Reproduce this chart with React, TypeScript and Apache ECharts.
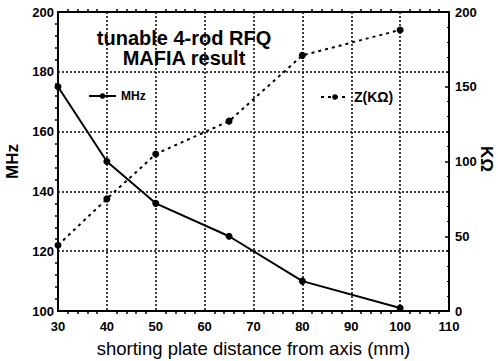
import React, { useEffect, useRef } from "react";
import * as echarts from "echarts";

const distances = [30, 40, 50, 65, 80, 100];
const mhzValues = [175, 150, 136, 125, 110, 101];
const zValues = [44, 75, 105, 127, 171, 188];
const titleLines = ["tunable 4-rod RFQ", "MAFIA result"];

const FONT = "'Liberation Sans', Arial, sans-serif";

export default function App() {
  const ref = useRef<HTMLDivElement>(null);
  useEffect(() => {
    if (!ref.current) return;
    const chart = echarts.init(ref.current, undefined, { renderer: "svg" });
    const mhzData = distances.map((d, i) => [d, mhzValues[i]]);
    const zData = distances.map((d, i) => [d, zValues[i]]);
    const axisLabel = { color: "#000", fontFamily: FONT, fontWeight: "bold" as const, fontSize: 13 };
    chart.setOption({
      animation: false,
      backgroundColor: "#fff",
      grid: {
        left: 58,
        right: 49,
        top: 12,
        bottom: 50,
        show: true,
        borderColor: "#000",
        borderWidth: 2,
        outerBoundsMode: "none",
        containLabel: false,
      },
      graphic: [
        {
          type: "text",
          x: 184,
          y: 28,
          style: {
            text: titleLines.join("\n"),
            font: `bold 20px ${FONT}`,
            fill: "#000",
            align: "center",
            verticalAlign: "top",
            lineHeight: 20,
          },
        },
        {
          type: "text",
          x: 486,
          y: 159,
          rotation: -Math.PI / 2,
          style: {
            text: "KΩ",
            font: `bold 17px ${FONT}`,
            fill: "#000",
            align: "center",
            verticalAlign: "middle",
          },
        },
      ],
      legend: [
        {
          data: ["MHz"],
          left: 83,
          top: 85,
          itemWidth: 27,
          itemHeight: 7,
          textStyle: { color: "#000", fontFamily: FONT, fontWeight: "bold", fontSize: 12 },
        },
        {
          data: ["Z(KΩ)"],
          left: 315,
          top: 85,
          itemWidth: 28,
          itemHeight: 7,
          textStyle: { color: "#000", fontFamily: FONT, fontWeight: "bold", fontSize: 14 },
        },
      ],
      xAxis: [
        {
          type: "value",
          min: 30,
          max: 110,
          interval: 10,
          name: "shorting plate distance from axis (mm)",
          nameLocation: "middle",
          nameGap: 28,
          nameTextStyle: { color: "#000", fontFamily: FONT, fontSize: 18.5 },
          axisLine: { show: true, lineStyle: { color: "#000", width: 2 } },
          axisTick: { show: false },
          minorTick: { show: true, splitNumber: 5, length: 3, lineStyle: { color: "#000", width: 1.5 } },
          axisLabel: { ...axisLabel, margin: 9 },
          splitLine: { show: true, lineStyle: { color: "#000", type: [2, 2], width: 1.5 } },
        },
        {
          type: "value",
          position: "top",
          min: 30,
          max: 110,
          interval: 10,
          axisLine: { show: true, onZero: false, lineStyle: { color: "#000", width: 2 } },
          axisTick: { show: false },
          minorTick: { show: true, splitNumber: 5, length: 3, lineStyle: { color: "#000", width: 1.5 } },
          axisLabel: { show: false },
          splitLine: { show: false },
        },
      ],
      yAxis: [
        {
          type: "value",
          min: 100,
          max: 200,
          interval: 20,
          name: "MHz",
          nameLocation: "middle",
          nameGap: 31,
          nameTextStyle: { color: "#000", fontFamily: FONT, fontWeight: "bold", fontSize: 17 },
          axisLine: { show: true, lineStyle: { color: "#000", width: 2 } },
          axisTick: { show: false },
          minorTick: { show: true, splitNumber: 5, length: 3, lineStyle: { color: "#000", width: 1.5 } },
          axisLabel: { ...axisLabel, margin: 4 },
          splitLine: { show: true, lineStyle: { color: "#000", type: [2, 2], width: 1.5 } },
        },
        {
          type: "value",
          min: 0,
          max: 200,
          interval: 50,
          position: "right",
          axisLine: { show: true, lineStyle: { color: "#000", width: 2 } },
          axisTick: { show: true, inside: true, length: 4, lineStyle: { color: "#000", width: 1.5 } },
          minorTick: { show: true, splitNumber: 5, length: 2, lineStyle: { color: "#000", width: 1 } },
          axisLabel: { ...axisLabel, margin: 6 },
          splitLine: { show: false },
        },
      ],
      series: [
        {
          name: "MHz",
          type: "line",
          xAxisIndex: 0,
          yAxisIndex: 0,
          data: mhzData,
          symbol: "circle",
          symbolSize: 7,
          itemStyle: { color: "#000" },
          lineStyle: { color: "#000", width: 2 },
        },
        {
          name: "Z(KΩ)",
          type: "line",
          xAxisIndex: 0,
          yAxisIndex: 1,
          data: zData,
          symbol: "circle",
          symbolSize: 7,
          itemStyle: { color: "#000" },
          lineStyle: { color: "#000", width: 2, type: [3, 4] },
        },
      ],
    });
    return () => chart.dispose();
  }, []);
  return <div ref={ref} style={{ width: 498, height: 361, position: "absolute", left: 0, top: 0 }} />;
}
